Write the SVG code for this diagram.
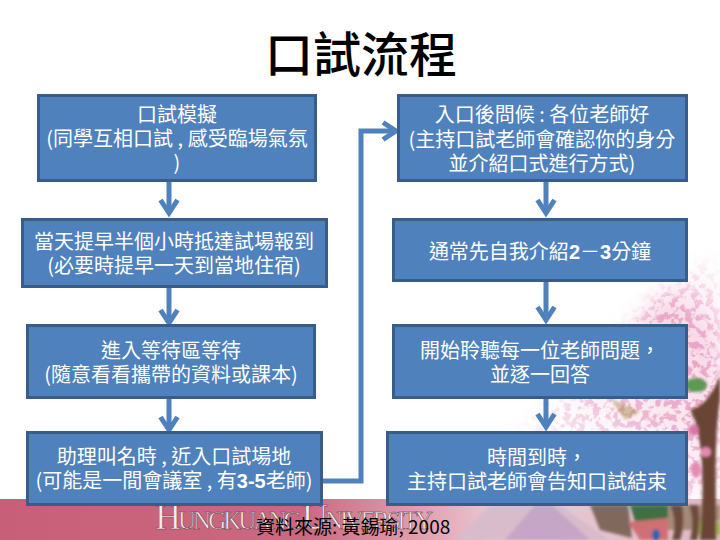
<svg xmlns="http://www.w3.org/2000/svg" width="720" height="540" viewBox="0 0 720 540">
<style>
.box{fill:#4f81bd;stroke:#385d8a;stroke-width:3}
.t{font-family:"Noto Sans CJK TC","Noto Sans CJK SC",sans-serif;font-size:20px;fill:#fff;text-anchor:middle;font-weight:400}
.t tspan.b{font-family:"Liberation Sans",sans-serif;font-weight:700}
.title{font-family:"Noto Sans CJK TC",sans-serif;font-size:48px;font-weight:500;fill:#000;text-anchor:middle}
.cap{font-family:"Noto Sans CJK TC","Liberation Sans",sans-serif;font-size:19px;fill:#000}
.logo{font-family:"Liberation Serif",serif;font-size:25px;fill:#f6ecef;stroke:#5e3340;stroke-width:.5}
.logo .s{font-size:36px}
.arr{fill:none;stroke:#4f81bd;stroke-width:5}
</style>
<defs>
<marker id="head" markerUnits="userSpaceOnUse" markerWidth="22" markerHeight="24" refX="15" refY="12" orient="auto">
<path d="M2 3.500L15 12L2 20.500" fill="none" stroke="#4f81bd" stroke-width="5"/>
</marker>
<linearGradient id="band" x1="0" x2="1" y1="0" y2="0">
<stop offset="0" stop-color="#c85f79"/><stop offset=".42" stop-color="#cb6880"/><stop offset=".6" stop-color="#e3a5b4"/><stop offset=".7" stop-color="#ecccd6"/><stop offset="1" stop-color="#dcb8c4"/>
</linearGradient>
<linearGradient id="wash" gradientUnits="userSpaceOnUse" x1="560" y1="470" x2="720" y2="270">
<stop offset="0" stop-color="#ffffff" stop-opacity=".05"/><stop offset=".4" stop-color="#f6d0e0" stop-opacity=".45"/><stop offset=".75" stop-color="#f0b0cd" stop-opacity=".5"/><stop offset="1" stop-color="#fbe4ee" stop-opacity=".05"/>
</linearGradient>
<filter id="mottle" x="0" y="0" width="100%" height="100%" color-interpolation-filters="sRGB">
<feGaussianBlur in="SourceGraphic" stdDeviation="10" result="b"/>
<feTurbulence type="fractalNoise" baseFrequency=".14" numOctaves="3" seed="7" result="n"/>
<feColorMatrix in="n" type="matrix" values="0 0 0 0 .86  0 0 0 0 .42  0 0 0 0 .64  7 0 0 0 -3.300" result="c"/>
<feComposite in="c" in2="b" operator="in" result="d"/>
<feMerge><feMergeNode in="b"/><feMergeNode in="d"/></feMerge>
</filter>
<filter id="soft" x="-5%" y="-5%" width="110%" height="110%"><feGaussianBlur stdDeviation="1.500"/></filter>
</defs>
<g id="background">
<rect width="720" height="540" fill="#fff"/>
<path d="M720 250C695 270 660 290 640 320C610 345 585 385 540 415C500 440 460 480 440 505L720 505Z" fill="url(#wash)" filter="url(#mottle)"/>
<rect x="0" y="499" width="720" height="41" fill="url(#band)"/>
<g filter="url(#soft)">
<path d="M455 540L490 505H560L610 540Z" fill="#d8bccb"/>
<path d="M505 540L535 505H552L590 540Z" fill="#c6a6c6"/>
<path d="M590 505H628L632 538L600 530Z" fill="#80685c"/>
<path d="M630 505H672V518L635 522Z" fill="#3f6f42"/>
<path d="M628 522L668 518V540H640Z" fill="#cf6f74"/>
<path d="M668 505H720V520L690 530H668Z" fill="#a58a78"/>
<path d="M692 522H720V535H692Z" fill="#9cad55"/>
<path d="M690 410C703 430 705 480 700 540H716C716 480 714 440 720 400V375C712 395 705 405 690 410Z" fill="#6a4536"/>
<path d="M670 505C675 515 676 530 672 540H680C684 530 684 515 682 505Z" fill="#6d4c3c"/>
<path d="M689 505C693 515 693 530 690 540H697C700 530 700 515 698 505Z" fill="#6d4c3c"/>
<ellipse cx="696" cy="385" rx="11" ry="7" fill="#5b9a52"/>
<ellipse cx="706" cy="452" rx="5" ry="5" fill="#e58ab0"/>
<ellipse cx="696" cy="470" rx="5" ry="8" fill="#e58ab0"/>
<ellipse cx="694" cy="430" rx="5" ry="6" fill="#d978a6"/>
<ellipse cx="656" cy="535" rx="4" ry="6" fill="#2f63ad"/>
<path d="M610 398L640 412L625 420Z" fill="#a8894f" opacity=".5"/>
</g>
<g id="logo"><text class="logo" x="155" y="529" textLength="278" lengthAdjust="spacing"><tspan class="s">H</tspan>UNGKUANG <tspan class="s">U</tspan>NIVERSITY</text></g>
</g>
<text class="title" x="361" y="72">口試流程</text>
<g id="connectors">
<path class="arr" marker-end="url(#head)" d="M169 180V213"/>
<path class="arr" marker-end="url(#head)" d="M169 287V323"/>
<path class="arr" marker-end="url(#head)" d="M169 398V430"/>
<path class="arr" marker-end="url(#head)" d="M546 180V213"/>
<path class="arr" marker-end="url(#head)" d="M546 281V320"/>
<path class="arr" marker-end="url(#head)" d="M546 398V427"/>
<path class="arr" marker-end="url(#head)" d="M322 481H361V131H396"/>
</g>
<g id="n1"><rect class="box" x="38.500" y="95.500" width="277" height="85"/><text class="t"><tspan x="177" y="122">口試模擬</tspan><tspan x="177" y="146">(同學互相口試 , 感受臨場氣氛</tspan><tspan x="177" y="170">)</tspan></text></g>
<g id="n2"><rect class="box" x="22.500" y="219.500" width="304" height="67"/><text class="t"><tspan x="174" y="249">當天提早半個小時抵達試場報到</tspan><tspan x="174" y="273">(必要時提早一天到當地住宿)</tspan></text></g>
<g id="n3"><rect class="box" x="27.500" y="325.500" width="287" height="72"/><text class="t"><tspan x="171" y="358">進入等待區等待</tspan><tspan x="171" y="382">(隨意看看攜帶的資料或課本)</tspan></text></g>
<g id="n4"><rect class="box" x="27.500" y="432.500" width="294" height="72"/><text class="t"><tspan x="174" y="464">助理叫名時 , 近入口試場地</tspan><tspan x="174" y="488">(可能是一間會議室 , 有<tspan class="b">3-5</tspan>老師)</tspan></text></g>
<g id="n5"><rect class="box" x="398.500" y="95.500" width="288" height="85"/><text class="t"><tspan x="542" y="122">入口後問候 : 各位老師好</tspan><tspan x="542" y="147">(主持口試老師會確認你的身分</tspan><tspan x="542" y="171">並介紹口式進行方式)</tspan></text></g>
<g id="n6"><rect class="box" x="393.500" y="219.500" width="293" height="61"/><text class="t"><tspan x="540" y="259">通常先自我介紹<tspan class="b">2</tspan>－<tspan class="b">3</tspan>分鐘</tspan></text></g>
<g id="n7"><rect class="box" x="393.500" y="325.500" width="293" height="72"/><text class="t"><tspan x="540" y="358">開始聆聽每一位老師問題，</tspan><tspan x="540" y="382">並逐一回答</tspan></text></g>
<g id="n8"><rect class="box" x="387.500" y="432.500" width="299" height="72"/><text class="t"><tspan x="537" y="465">時間到時，</tspan><tspan x="537" y="489">主持口試老師會告知口試結束</tspan></text></g>
<text class="cap" x="256" y="534">資料來源: 黃錫瑜, 2008</text>
</svg>
